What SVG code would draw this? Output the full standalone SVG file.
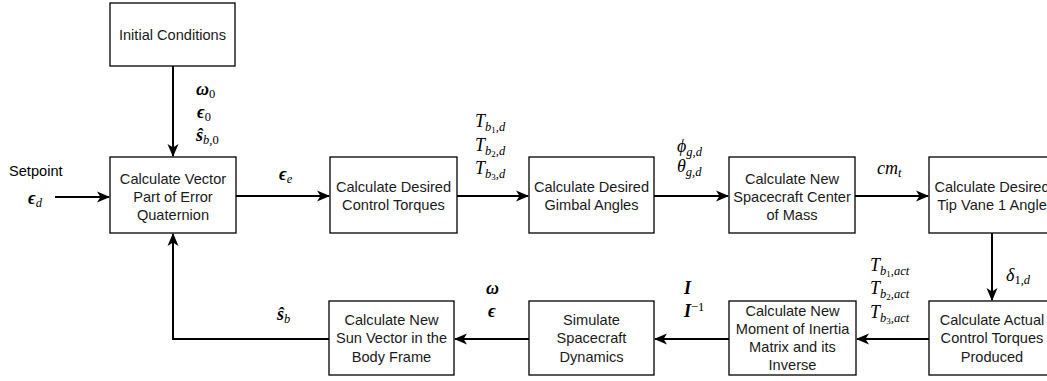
<svg xmlns="http://www.w3.org/2000/svg" width="1047" height="381" viewBox="0 0 1047 381">
<defs>
<marker id="arr" markerUnits="userSpaceOnUse" markerWidth="14" markerHeight="14" viewBox="0 0 14 14" refX="12" refY="7" orient="auto">
<path d="M0,1.5 L13,7 L0,12.5 L3.5,7 z" fill="#000"/>
</marker>
<style>
.box{fill:#fff;stroke:#000;stroke-width:1.3}
.t{font-family:"Liberation Sans",Arial,sans-serif;font-size:14.6px;fill:#1a1a1a;text-anchor:middle}
.lbl{font-family:"Liberation Sans",Arial,sans-serif;font-size:14.6px;fill:#000}
.m{font-family:"Liberation Serif","Times New Roman",serif;font-style:italic;font-size:18px;fill:#000}
.mb{font-family:"Liberation Serif","Times New Roman",serif;font-style:italic;font-weight:bold;font-size:18px;fill:#000}
.c{fill:none;stroke:#000;stroke-width:2;marker-end:url(#arr)}
.s{font-size:12.5px}
.ss{font-size:9px}
.u{font-style:normal;font-weight:normal}
</style>
</defs>
<rect width="1047" height="381" fill="#fff"/>

<g id="connectors">
<path class="c" d="M55,197 H109"/>
<path class="c" d="M173,66 V156"/>
<path class="c" d="M236,196 H329"/>
<path class="c" d="M457,196 H528"/>
<path class="c" d="M654,196 H728"/>
<path class="c" d="M855,196 H928"/>
<path class="c" d="M992,233 V300"/>
<path class="c" d="M929,339 H857"/>
<path class="c" d="M729,339 H655"/>
<path class="c" d="M529,339 H455"/>
<path class="c" d="M329,339 H173 V234"/>
</g>

<g id="node-initial">
<rect class="box" x="110" y="3" width="125" height="63"/>
<text class="t" x="172.5" y="40">Initial Conditions</text>
</g>
<g id="node-error">
<rect class="box" x="110" y="157" width="126" height="76"/>
<text class="t" x="173" y="184">Calculate Vector</text>
<text class="t" x="173" y="202">Part of Error</text>
<text class="t" x="173" y="220">Quaternion</text>
</g>
<g id="node-torques">
<rect class="box" x="330" y="157" width="127" height="76"/>
<text class="t" x="393.5" y="192">Calculate Desired</text>
<text class="t" x="393.5" y="210">Control Torques</text>
</g>
<g id="node-gimbal">
<rect class="box" x="529" y="157" width="125" height="76"/>
<text class="t" x="591.5" y="192">Calculate Desired</text>
<text class="t" x="591.5" y="210">Gimbal Angles</text>
</g>
<g id="node-com">
<rect class="box" x="729" y="157" width="126" height="76"/>
<text class="t" x="792" y="184">Calculate New</text>
<text class="t" x="792" y="202">Spacecraft Center</text>
<text class="t" x="792" y="220">of Mass</text>
</g>
<g id="node-tipvane">
<rect class="box" x="929" y="157" width="125" height="76"/>
<text class="t" x="992" y="192">Calculate Desired</text>
<text class="t" x="992" y="210">Tip Vane 1 Angle</text>
</g>
<g id="node-actual">
<rect class="box" x="929" y="301" width="125" height="74"/>
<text class="t" x="992" y="325">Calculate Actual</text>
<text class="t" x="992" y="343">Control Torques</text>
<text class="t" x="992" y="362">Produced</text>
</g>
<g id="node-inertia">
<rect class="box" x="729" y="301" width="127" height="74"/>
<text class="t" x="792.5" y="316">Calculate New</text>
<text class="t" x="792.5" y="334">Moment of Inertia</text>
<text class="t" x="792.5" y="352">Matrix and its</text>
<text class="t" x="792.5" y="370">Inverse</text>
</g>
<g id="node-dynamics">
<rect class="box" x="529" y="301" width="125" height="74"/>
<text class="t" x="591.5" y="325">Simulate</text>
<text class="t" x="591.5" y="343">Spacecraft</text>
<text class="t" x="591.5" y="362">Dynamics</text>
</g>
<g id="node-sun">
<rect class="box" x="329" y="301" width="125" height="74"/>
<text class="t" x="391.5" y="325">Calculate New</text>
<text class="t" x="391.5" y="343">Sun Vector in the</text>
<text class="t" x="391.5" y="362">Body Frame</text>
</g>

<g id="labels">
<text class="lbl" x="9" y="176">Setpoint</text>
<text class="mb" x="28" y="204">ϵ<tspan class="s" font-weight="normal" dy="3">d</tspan></text>
<text class="mb" x="196" y="95">ω<tspan class="s u" dy="3">0</tspan></text>
<text class="mb" x="197" y="118">ϵ<tspan class="s u" dy="3">0</tspan></text>
<text class="mb" x="196" y="141">ŝ<tspan class="s" font-weight="normal" dy="3">b,</tspan><tspan class="s u">0</tspan></text>
<text class="mb" x="279" y="180">ϵ<tspan class="s" font-weight="normal" dy="3">e</tspan></text>
<text class="m" x="475" y="127">T<tspan class="s" dy="4">b</tspan><tspan class="ss u" dy="2">1</tspan><tspan class="s" dy="-2">,d</tspan></text>
<text class="m" x="475" y="151">T<tspan class="s" dy="4">b</tspan><tspan class="ss u" dy="2">2</tspan><tspan class="s" dy="-2">,d</tspan></text>
<text class="m" x="475" y="174">T<tspan class="s" dy="4">b</tspan><tspan class="ss u" dy="2">3</tspan><tspan class="s" dy="-2">,d</tspan></text>
<text class="m" x="677" y="152">ϕ<tspan class="s" dy="4">g,d</tspan></text>
<text class="m" x="677" y="172">θ<tspan class="s" dy="4">g,d</tspan></text>
<text class="m" x="877" y="174">cm<tspan class="s" dy="3">t</tspan></text>
<text class="m" x="1006" y="281">δ<tspan class="s u" dy="3">1,</tspan><tspan class="s">d</tspan></text>
<text class="m" x="870" y="271">T<tspan class="s" dy="4">b</tspan><tspan class="ss u" dy="2">1</tspan><tspan class="s" dy="-2">,act</tspan></text>
<text class="m" x="870" y="294">T<tspan class="s" dy="4">b</tspan><tspan class="ss u" dy="2">2</tspan><tspan class="s" dy="-2">,act</tspan></text>
<text class="m" x="870" y="318">T<tspan class="s" dy="4">b</tspan><tspan class="ss u" dy="2">3</tspan><tspan class="s" dy="-2">,act</tspan></text>
<text class="mb" x="684" y="294">I</text>
<text class="mb" x="684" y="317">I<tspan class="s u" dy="-6">−1</tspan></text>
<text class="mb" x="486" y="294">ω</text>
<text class="mb" x="488" y="317">ϵ</text>
<text class="mb" x="277" y="320">ŝ<tspan class="s" font-weight="normal" dy="3">b</tspan></text>
</g>
</svg>
